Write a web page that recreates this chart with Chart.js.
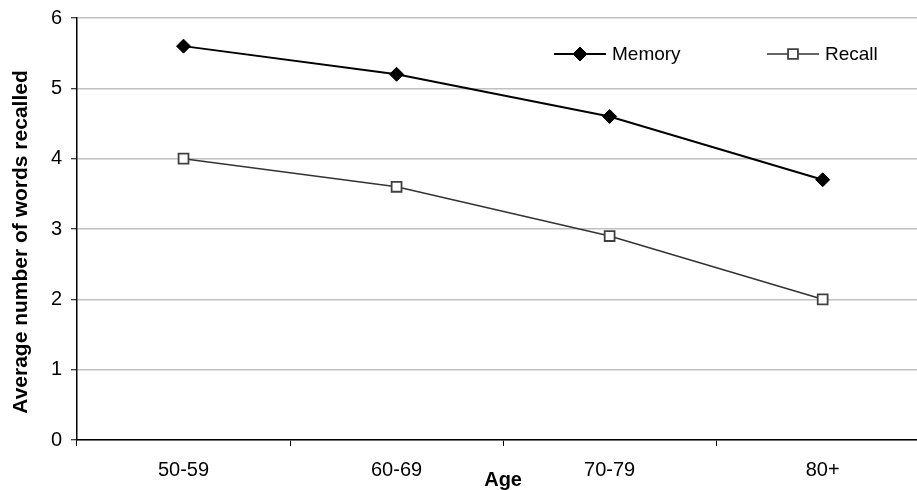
<!DOCTYPE html>
<html>
<head>
<meta charset="utf-8">
<title>Average number of words recalled by age</title>
<script src="https://cdn.jsdelivr.net/npm/chart.js@4/dist/chart.umd.min.js"></script>
<style>
  html, body { margin: 0; padding: 0; background: #fff; }
  #wrap { width: 917px; height: 490px; overflow: hidden; position: relative; }
  #chart { display: block; }
</style>
</head>
<body>
<div id="wrap"><canvas id="chart" width="938" height="490"></canvas></div>
<script>
const ageGroups = ["50-59", "60-69", "70-79", "80+"];
const memoryValues = [5.6, 5.2, 4.6, 3.7];
const recallValues = [4.0, 3.6, 2.9, 2.0];
const yTicks = [0, 1, 2, 3, 4, 5, 6];
const yTitle = "Average number of words recalled";

const FONT = '"Liberation Sans", Arial, sans-serif';

// legend drawn inside the plot: short line with the marker in the middle, then the label
const insideLegend = {
  id: "insideLegend",
  afterDraw(chart, args, opts) {
    const ctx = chart.ctx;
    chart.data.datasets.forEach((ds, i) => {
      const x = opts.x[i];
      const y = opts.y;
      ctx.save();
      ctx.strokeStyle = ds.borderColor;
      ctx.lineWidth = ds.borderWidth;
      ctx.beginPath();
      ctx.moveTo(x, y);
      ctx.lineTo(x + opts.lineLength, y);
      ctx.stroke();
      ctx.fillStyle = ds.pointBackgroundColor;
      ctx.strokeStyle = ds.pointBorderColor;
      ctx.lineWidth = ds.pointBorderWidth;
      Chart.helpers.drawPoint(ctx, {
        pointStyle: ds.pointStyle,
        radius: ds.pointRadius,
        borderWidth: ds.pointBorderWidth,
        rotation: 0
      }, x + opts.lineLength / 2, y);
      ctx.fillStyle = "#000";
      ctx.font = opts.font;
      ctx.textBaseline = "middle";
      ctx.textAlign = "left";
      ctx.fillText(ds.label, x + opts.lineLength + 6, y + 1);
      ctx.restore();
    });
  }
};

// y title sits a bit lower than the plot centre in the original
const sideTitle = {
  id: "sideTitle",
  afterDraw(chart, args, opts) {
    const ctx = chart.ctx;
    ctx.save();
    ctx.translate(opts.x, opts.y);
    ctx.rotate(-Math.PI / 2);
    ctx.fillStyle = "#000";
    ctx.font = opts.font;
    ctx.textAlign = "center";
    ctx.textBaseline = "middle";
    ctx.fillText(opts.text, 0, 0);
    ctx.restore();
  }
};

new Chart(document.getElementById("chart"), {
  type: "line",
  data: {
    labels: ageGroups,
    datasets: [
      {
        label: "Memory",
        data: memoryValues,
        borderColor: "#000000",
        borderWidth: 2,
        pointStyle: "rectRot",
        pointRadius: 7,
        pointBackgroundColor: "#000000",
        pointBorderColor: "#000000",
        pointBorderWidth: 1,
        tension: 0
      },
      {
        label: "Recall",
        data: recallValues,
        borderColor: "#333333",
        borderWidth: 1.5,
        pointStyle: "rect",
        pointRadius: 7,
        pointBackgroundColor: "#ffffff",
        pointBorderColor: "#404040",
        pointBorderWidth: 1.8,
        tension: 0
      }
    ]
  },
  plugins: [insideLegend, sideTitle],
  options: {
    responsive: false,
    animation: false,
    events: [],
    layout: { padding: { top: 18, right: 0, bottom: 0, left: 0 } },
    plugins: {
      legend: { display: false },
      tooltip: { enabled: false },
      insideLegend: {
        x: [554, 767],
        y: 54,
        lineLength: 52,
        font: "19px " + FONT
      },
      sideTitle: {
        text: yTitle,
        x: 21,
        y: 242,
        font: "bold 21px " + FONT
      }
    },
    scales: {
      x: {
        type: "category",
        offset: true,
        afterFit(scale) { scale.height = 50; },
        grid: {
          offset: true,
          drawOnChartArea: false,
          drawTicks: true,
          tickLength: 6,
          tickColor: "#000000",
          tickWidth: 1
        },
        border: { color: "#000000", width: 1.5 },
        ticks: {
          color: "#000000",
          padding: 12,
          font: { family: FONT, size: 20 }
        },
        title: {
          display: true,
          text: "Age",
          color: "#000000",
          padding: { top: 0, bottom: 0 },
          font: { family: FONT, size: 20, weight: "bold", lineHeight: 1.0 }
        }
      },
      y: {
        min: 0,
        max: 6,
        afterFit(scale) {
          scale.width = 77;
          scale.paddingTop = 0;
          scale.paddingBottom = 0;
        },
        afterBuildTicks(scale) { scale.ticks = yTicks.map((v) => ({ value: v })); },
        grid: {
          color: "#c0c0c0",
          lineWidth: 1.5,
          drawTicks: true,
          tickLength: 6,
          tickColor: "#000000",
          tickWidth: 1
        },
        border: { color: "#000000", width: 1.5 },
        ticks: {
          color: "#000000",
          padding: 9,
          font: { family: FONT, size: 20 }
        },
        title: { display: false }
      }
    }
  }
});
</script>
</body>
</html>
